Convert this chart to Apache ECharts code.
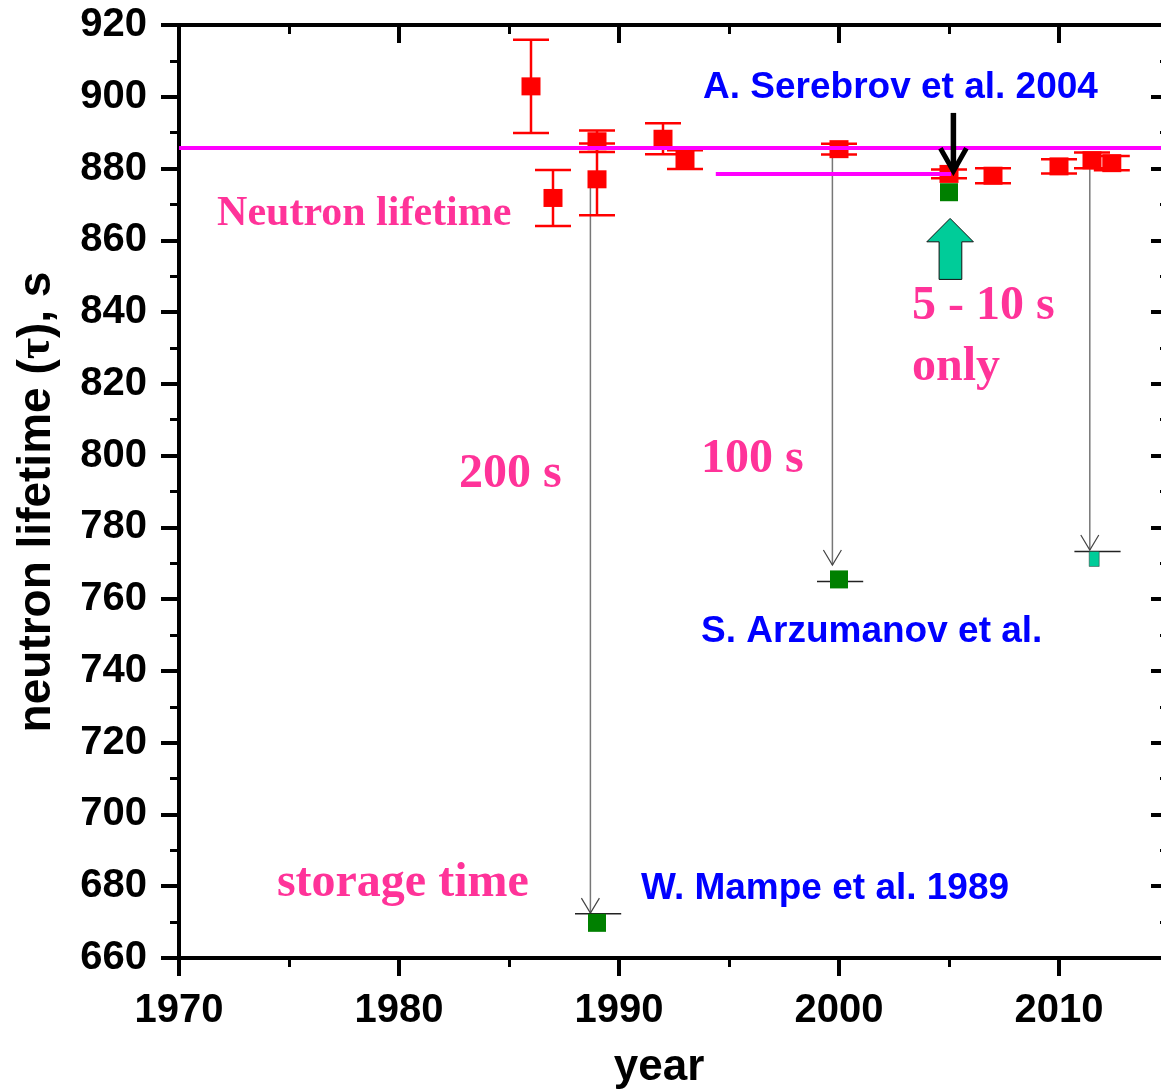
<!DOCTYPE html>
<html>
<head>
<meta charset="utf-8">
<script src="https://cdn.jsdelivr.net/npm/echarts@6/dist/echarts.min.js"></script>
<style>
  html, body { margin: 0; padding: 0; background: #fff; }
  #chart { width: 1161px; height: 1091px; }
</style>
</head>
<body>
<div id="chart"></div>
<script>
// Storage-method measurements of the neutron lifetime (red, with errors)
const redYears = [1986, 1987, 1989, 1989, 1992, 1993, 2000, 2005, 2007, 2010, 2011.5, 2012.4];
const redTau   = [902.9, 871.8, 887.6, 877.0, 888.3, 882.5, 885.4, 878.5, 878.0, 880.6, 882.3, 881.5];
const redErr   = [13, 7.8, 3.0, 10, 4.3, 2.6, 1.5, 1.2, 2.1, 2.0, 2.2, 2.0];

// Measured storage times (green) for the same experiments
const greenYears = [1989, 2000, 2005];
const greenTau   = [669.8, 765.5, 873.4];
const tealYears  = [2011.6];
const tealTau    = [771.2];

// Short reference bars at the storage-time points: [from year, to year, value]
const storageBars = [[1988.0, 1990.1, 672.3], [1999.0, 2001.1, 764.9], [2010.7, 2012.8, 773.3]];
// Thin arrows from a lifetime down to its storage time: [year, from, to]
const storageArrows = [[1988.7, 875.0, 672.5], [1999.7, 883.5, 769.5], [2011.4, 882.0, 773.7]];

// World-average lifetime and the Serebrov level
const avgTau = 885.7;
const serebrovLevel = [1994.4, 2005.1, 878.5];

// Pointer arrows near the 2005 result: [year, from, to] and [year, tip]
const blackArrow = [[2005.2, 895.5, 878.7]];
const tealArrow = [[2005.05, 866.1]];

// Axis ranges and tick steps
const xRange = [1970, 2015];
const yRange = [660, 920];
const xStep = 10;
const yStep = 20;

// Annotation texts, anchored in data space at their left edge / vertical middle
const blueNotes = [
  ['A. Serebrov et al. 2004', 1993.82, 902.6],
  ['S. Arzumanov et al.', 1993.73, 750.9],
  ['W. Mampe et al. 1989', 1991.0, 679.3]
];
const pinkNotes = [
  ['Neutron lifetime', 1971.73, 867.4, 42],
  ['200 s', 1982.73, 794.7, 48],
  ['100 s', 1993.73, 798.8, 48],
  ['5 - 10 s', 2003.32, 841.5, 48],
  ['only', 2003.32, 824.5, 48],
  ['storage time', 1974.45, 680.7, 48]
];

const SANS = '"Liberation Sans", Arial, sans-serif';
const SERIF = '"Liberation Serif", "Times New Roman", serif';
const PINK = '#ff3399';
const BLUE = '#0000ff';

const chart = echarts.init(document.getElementById('chart'), null, { renderer: 'canvas' });

function baseAxis(extra) {
  return Object.assign({
    type: 'value',
    axisLine: { show: true, lineStyle: { color: '#000', width: 4 } },
    splitLine: { show: false },
    axisTick: { show: true, length: 18, lineStyle: { color: '#000', width: 4 } },
    minorTick: { show: true, splitNumber: 2, length: 9, lineStyle: { color: '#000', width: 3 } }
  }, extra);
}

const option = {
  backgroundColor: '#fff',
  animation: false,
  grid: { left: 179, top: 25, right: -8, bottom: 133, containLabel: false, outerBoundsMode: 'none' },
  xAxis: [
    baseAxis({
      position: 'bottom', min: xRange[0], max: xRange[1], interval: xStep,
      axisLabel: { show: true, margin: 33, color: '#000', fontFamily: SANS, fontWeight: 'bold', fontSize: 40,
        formatter: v => (v % xStep === 0 && v <= 2010) ? String(v) : '' }
    }),
    baseAxis({
      position: 'top', min: xRange[0], max: xRange[1], interval: xStep,
      axisTick: { show: true, inside: true, length: 18, lineStyle: { color: '#000', width: 4 } },
      minorTick: { show: true, splitNumber: 2, length: 9, lineStyle: { color: '#000', width: 3 } },
      axisLabel: { show: false }
    })
  ],
  yAxis: [
    baseAxis({
      position: 'left', min: yRange[0], max: yRange[1], interval: yStep,
      axisLabel: { show: true, margin: 32, color: '#000', fontFamily: SANS, fontWeight: 'bold', fontSize: 40,
        padding: [6, 0, 0, 0] }
    }),
    baseAxis({
      position: 'right', min: yRange[0], max: yRange[1], interval: yStep,
      axisTick: { show: true, inside: true, length: 18, lineStyle: { color: '#000', width: 4 } },
      minorTick: { show: true, splitNumber: 2, length: 9, lineStyle: { color: '#000', width: 3 } },
      axisLabel: { show: false }
    })
  ],
  graphic: [
    {
      type: 'text', x: 659, y: 1068, z: 100,
      style: { text: 'year', fill: '#000', font: 'bold 44px ' + SANS, align: 'center', verticalAlign: 'middle' }
    },
    {
      type: 'text', x: 37, y: 502, rotation: Math.PI / 2, z: 100,
      style: {
        text: '{a|neutron lifetime (}{t|τ}{a|), s}',
        align: 'center', verticalAlign: 'middle',
        rich: {
          a: { fill: '#000', fontFamily: SANS, fontWeight: 'bold', fontSize: 46 },
          t: { fill: '#000', fontFamily: SERIF, fontWeight: 'bold', fontSize: 46 }
        }
      }
    }
  ],
  series: [
    // storage reference bars
    {
      type: 'custom', z: 3, silent: true,
      data: storageBars,
      encode: { x: [0, 1], y: 2 },
      renderItem(params, api) {
        const a = api.coord([api.value(0), api.value(2)]);
        const b = api.coord([api.value(1), api.value(2)]);
        return { type: 'line', shape: { x1: a[0], y1: a[1], x2: b[0], y2: b[1] },
          style: { stroke: '#222', lineWidth: 1.5 } };
      }
    },
    // thin arrows down to the storage times
    {
      type: 'custom', z: 2, silent: true,
      data: storageArrows,
      encode: { x: 0, y: [1, 2] },
      renderItem(params, api) {
        const s = api.coord([api.value(0), api.value(1)]);
        const t = api.coord([api.value(0), api.value(2)]);
        return { type: 'group', children: [
          { type: 'line', shape: { x1: s[0], y1: s[1], x2: t[0], y2: t[1] },
            style: { stroke: '#777', lineWidth: 1.5 } },
          { type: 'polyline', shape: { points: [[t[0] - 9, t[1] - 15], [t[0], t[1]], [t[0] + 9, t[1] - 15]] },
            style: { stroke: '#444', lineWidth: 1.2, fill: null } }
        ] };
      }
    },
    // error bars
    {
      type: 'custom', z: 4, silent: true,
      data: redYears.map((x, i) => [x, redTau[i], redErr[i]]),
      encode: { x: 0, y: 1 },
      renderItem(params, api) {
        const x = api.value(0), y = api.value(1), e = api.value(2);
        const hi = api.coord([x, y + e]);
        const lo = api.coord([x, y - e]);
        const w = 18;
        const st = { stroke: '#ff0000', lineWidth: 2.5 };
        return { type: 'group', children: [
          { type: 'line', shape: { x1: hi[0], y1: hi[1], x2: lo[0], y2: lo[1] }, style: st },
          { type: 'line', shape: { x1: hi[0] - w, y1: hi[1], x2: hi[0] + w, y2: hi[1] }, style: st },
          { type: 'line', shape: { x1: lo[0] - w, y1: lo[1], x2: lo[0] + w, y2: lo[1] }, style: st }
        ] };
      }
    },
    {
      type: 'scatter', z: 5, symbol: 'rect', symbolSize: [19, 18], silent: true,
      itemStyle: { color: '#ff0000', opacity: 1 },
      data: redYears.map((x, i) => [x, redTau[i]])
    },
    {
      type: 'scatter', z: 5, symbol: 'rect', symbolSize: [18, 18], silent: true,
      itemStyle: { color: '#008000', opacity: 1 },
      data: greenYears.map((x, i) => [x, greenTau[i]])
    },
    {
      type: 'scatter', z: 5, symbol: 'rect', symbolSize: [10, 15], silent: true,
      itemStyle: { color: '#00cc99', borderColor: '#333', borderWidth: 0.5, opacity: 1 },
      data: tealYears.map((x, i) => [x, tealTau[i]])
    },
    // average lifetime and the Serebrov level
    {
      type: 'line', z: 6, silent: true, symbol: 'none',
      lineStyle: { color: '#ff00ff', width: 4 },
      data: [[xRange[0], avgTau], [xRange[1], avgTau]]
    },
    {
      type: 'line', z: 6, silent: true, symbol: 'none',
      lineStyle: { color: '#ff00ff', width: 4 },
      data: [[serebrovLevel[0], serebrovLevel[2]], [serebrovLevel[1], serebrovLevel[2]]]
    },
    // black pointer arrow
    {
      type: 'custom', z: 8, silent: true,
      data: blackArrow,
      encode: { x: 0, y: [1, 2] },
      renderItem(params, api) {
        const s = api.coord([api.value(0), api.value(1)]);
        const t = api.coord([api.value(0), api.value(2)]);
        return { type: 'group', children: [
          { type: 'line', shape: { x1: s[0], y1: s[1], x2: t[0], y2: t[1] - 3 },
            style: { stroke: '#000', lineWidth: 5.5 } },
          { type: 'polyline', shape: { points: [[t[0] - 13, t[1] - 25], [t[0], t[1] - 2], [t[0] + 13, t[1] - 25]] },
            style: { stroke: '#000', lineWidth: 5, fill: null, lineJoin: 'miter' } }
        ] };
      }
    },
    // teal block arrow
    {
      type: 'custom', z: 8, silent: true,
      data: tealArrow,
      encode: { x: 0, y: 1 },
      renderItem(params, api) {
        const t = api.coord([api.value(0), api.value(1)]);
        const pts = [[0, 0], [23.3, 23.4], [11.7, 23.4], [11.7, 61], [-11, 61], [-11, 23.4], [-23.3, 23.4]]
          .map(p => [t[0] + p[0], t[1] + p[1]]);
        return { type: 'polygon', shape: { points: pts },
          style: { fill: '#00cc99', stroke: '#111', lineWidth: 1 } };
      }
    },
    // blue author labels
    {
      type: 'custom', z: 9, silent: true,
      data: blueNotes.map(n => [n[1], n[2]]),
      encode: { x: 0, y: 1 },
      renderItem(params, api) {
        const p = api.coord([api.value(0), api.value(1)]);
        return { type: 'text', x: p[0], y: p[1],
          style: { text: blueNotes[params.dataIndex][0], fill: BLUE, fontFamily: SANS,
            fontWeight: 'bold', fontSize: 37, align: 'left', verticalAlign: 'middle' } };
      }
    },
    // pink labels
    {
      type: 'custom', z: 9, silent: true,
      data: pinkNotes.map(n => [n[1], n[2]]),
      encode: { x: 0, y: 1 },
      renderItem(params, api) {
        const p = api.coord([api.value(0), api.value(1)]);
        const n = pinkNotes[params.dataIndex];
        return { type: 'text', x: p[0], y: p[1],
          style: { text: n[0], fill: PINK, fontFamily: SERIF,
            fontWeight: 'bold', fontSize: n[3], align: 'left', verticalAlign: 'middle' } };
      }
    }
  ]
};

chart.setOption(option);
</script>
</body>
</html>
